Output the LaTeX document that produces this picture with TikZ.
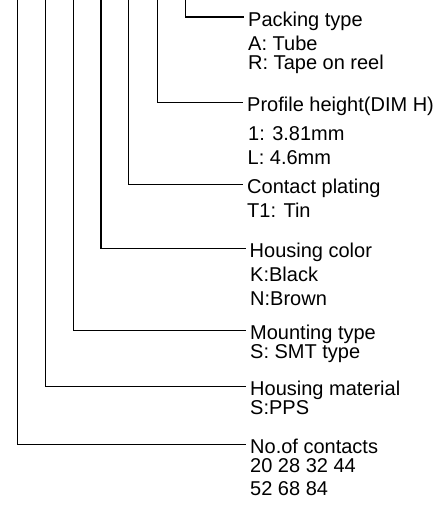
\documentclass[tikz,border=0pt]{standalone}
\usepackage{fontspec}
\setmainfont{Liberation Sans}
\begin{document}
\begin{tikzpicture}[x=1pt,y=-1pt,
  lbl/.style={anchor=base west,inner sep=0pt,font=\fontsize{20}{24}\selectfont},
  lead/.style={line width=1.4pt,black},
  tip/.style={xshift=-4pt,yshift=9pt}]
\useasboundingbox (0,0) rectangle (439,509);
% top ends of the leader lines
\coordinate (v1) at (17.3,0);
\coordinate (v2) at (45.7,0);
\coordinate (v3) at (73.3,0);
\coordinate (v4) at (101,0);
\coordinate (v5) at (128.7,0);
\coordinate (v6) at (157.3,0);
\coordinate (v7) at (185.3,0);
% Packing type
\node[lbl] (t7) at (248,26) {Packing type};
\node[lbl] (t7a) at (248,50) {A: Tube};
\node[lbl] (t7b) at (248,69.5) {R: Tape on reel};
% Profile height
\node[lbl] (t6) at (247,111.7) {Profile height(DIM H)};
\node[lbl] (t6a) at (248,140.5) {1: 3.81mm};
\node[lbl] (t6b) at (247.5,164) {L: 4.6mm};
% Contact plating
\node[lbl] (t5) at (247,193.5) {Contact plating};
\node[lbl] (t5a) at (247,217) {T1: Tin};
% Housing color
\node[lbl] (t4) at (249.5,257.3) {Housing color};
\node[lbl] (t4a) at (250,281.7) {K:Black};
\node[lbl] (t4b) at (250,305) {N:Brown};
% Mounting type
\node[lbl] (t3) at (250,339.5) {Mounting type};
\node[lbl] (t3a) at (250,358) {S: SMT type};
% Housing material
\node[lbl] (t2) at (250,395.5) {Housing material};
\node[lbl] (t2a) at (250,414) {S:PPS};
% No. of contacts
\node[lbl] (t1) at (250,453.5) {No.of contacts};
\node[lbl] (t1a) at (250,472) {20 28 32 44};
\node[lbl] (t1b) at (250,495.5) {52 68 84};
% leaders
\draw[lead] (v7) |- ([tip]t7.base west);
\draw[lead] (v6) |- ([tip]t6.base west);
\draw[lead] (v5) |- ([tip]t5.base west);
\draw[lead] (v4) |- ([tip]t4.base west);
\draw[lead] (v3) |- ([tip]t3.base west);
\draw[lead] (v2) |- ([tip]t2.base west);
\draw[lead] (v1) |- ([tip]t1.base west);
\end{tikzpicture}
\end{document}
